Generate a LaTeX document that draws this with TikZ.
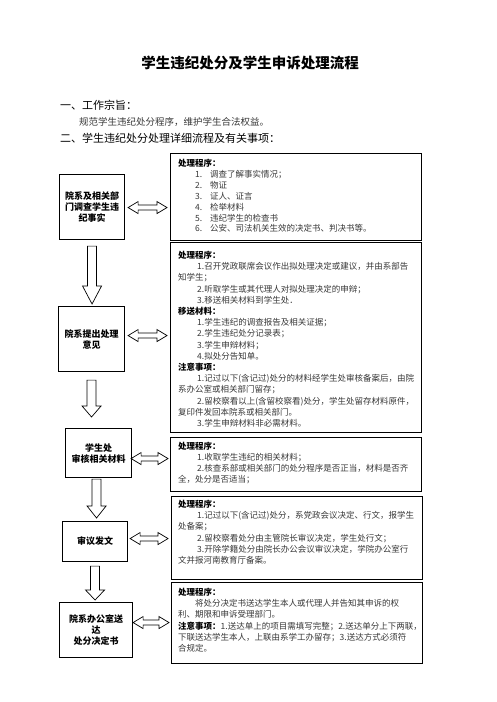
\documentclass[tikz,border=0pt]{standalone}
\usepackage{fontspec}
\setmainfont{Noto Sans CJK SC}
\usetikzlibrary{calc}
\newcommand\varrowshape[3]{\path[arr] let \p1=(#1), \p2=(#2) in (\x1-4.5pt,\y1) -- (\x1+4.5pt,\y1) -- (\x1+4.5pt,\y2+#3) -- (\x1+9.5pt,\y2+#3) -- (\x1,\y2) -- (\x1-9.5pt,\y2+#3) -- (\x1-4.5pt,\y2+#3) -- cycle;}
\newcommand\harrowshape[2]{\path[arr] let \p1=(#1), \p2=(#2) in (\x1,\y1) -- (\x1+10pt,\y1+6pt) -- (\x1+10pt,\y1+2.5pt) -- (\x2-10pt,\y1+2.5pt) -- (\x2-10pt,\y1+6pt) -- (\x2,\y1) -- (\x2-10pt,\y1-6pt) -- (\x2-10pt,\y1-2.5pt) -- (\x1+10pt,\y1-2.5pt) -- (\x1+10pt,\y1-6pt) -- cycle;}
\newcommand\ind{\hspace*{19pt}}
\newcommand\itm[1]{\hspace*{17pt}\makebox[15pt][l]{#1}}
\newcommand\hd[1]{{\bfseries\color{black}#1}}
\tikzset{
  box/.style={draw, line width=1.1pt, inner sep=0pt, anchor=north west},
  lbox/.style={draw, line width=1.1pt, inner sep=0pt, anchor=north west, align=center,
    font=\fontsize{9}{11}\selectfont\bfseries},
  btext/.style={font=\fontsize{8.5}{11.2}\selectfont, align=left, inner sep=0pt,
    anchor=north west, text=black!78},
  arr/.style={draw, line width=0.7pt, fill=white},
}
\begin{document}
\begin{tikzpicture}[x=1pt,y=-1pt]
\fill[white] (0,0) rectangle (496,702);
\useasboundingbox (0,0) rectangle (496,702);

% headings
\node[font=\fontsize{14.5}{16}\selectfont\bfseries, inner sep=0] (title) at (250,63) {学生违纪处分及学生申诉处理流程};
\node[font=\fontsize{11}{13}\selectfont, inner sep=0, anchor=west] (h1) at (60,105) {一、工作宗旨：};
\node[font=\fontsize{9.5}{12}\selectfont, inner sep=0, anchor=west, text=black!78] (s1) at (79,122) {规范学生违纪处分程序，维护学生合法权益。};
\node[font=\fontsize{11}{13}\selectfont, inner sep=0, anchor=west] (h2) at (60,138) {二、学生违纪处分处理详细流程及有关事项：};

% right boxes
\node[box, minimum width=251pt, minimum height=87pt] (r1) at (170,153) {};
\node[box, minimum width=251pt, minimum height=190pt] (r2) at (170,242) {};
\node[box, minimum width=251pt, minimum height=54pt] (r3) at (170,437) {};
\node[box, minimum width=251pt, minimum height=83pt] (r4) at (171,496) {};
\node[box, minimum width=251pt, minimum height=81pt] (r5) at (171,582) {};

% left boxes
\node[lbox, minimum width=65pt, minimum height=65pt] (l1) at (59,174) {院系及相关部\\门调查学生违\\纪事实};
\node[lbox, minimum width=66pt, minimum height=65pt] (l2) at (58,306) {院系提出处理\\意见};
\node[lbox, minimum width=66pt, minimum height=49pt] (l3) at (65,428) {学生处\\审核相关材料};
\node[lbox, minimum width=65pt, minimum height=40pt] (l4) at (62,521) {审议发文};
\node[lbox, minimum width=73pt, minimum height=55pt] (l5) at (59,602) {院系办公室送\\达\\处分决定书};

% texts in right boxes
\node[btext, font=\fontsize{8.5}{10.9}\selectfont] (t1) at (178,159) {\hd{处理程序：}\\
\itm{1.}调查了解事实情况；\\
\itm{2.}物证\\
\itm{3.}证人、证言\\
\itm{4.}检举材料\\
\itm{5.}违纪学生的检查书\\
\itm{6.}公安、司法机关生效的决定书、判决书等。};

\node[btext] (t2) at (178,251) {\hd{处理程序：}\\
\ind 1.召开党政联席会议作出拟处理决定或建议，并由系部告\\
知学生；\\
\ind 2.听取学生或其代理人对拟处理决定的申辩；\\
\ind 3.移送相关材料到学生处．\\
\hd{移送材料：}\\
\ind 1.学生违纪的调查报告及相关证据；\\
\ind 2.学生违纪处分记录表；\\
\ind 3.学生申辩材料；\\
\ind 4.拟处分告知单。\\
\hd{注意事项：}\\
\ind 1.记过以下(含记过)处分的材料经学生处审核备案后，由院\\
系办公室或相关部门留存；\\
\ind 2.留校察看以上(含留校察看)处分，学生处留存材料原件，\\
复印件发回本院系或相关部门。\\
\ind 3.学生申辩材料非必需材料。};

\node[btext, font=\fontsize{8.5}{11}\selectfont] (t3) at (178,442) {\hd{处理程序：}\\
\ind 1.收取学生违纪的相关材料；\\
\ind 2.核查系部或相关部门的处分程序是否正当，材料是否齐\\
全，处分是否适当；};

\node[btext] (t4) at (178,500) {\hd{处理程序：}\\
\ind 1.记过以下(含记过)处分，系党政会议决定、行文，报学生\\
处备案；\\
\ind 2.留校察看处分由主管院长审议决定，学生处行文；\\
\ind 3.开除学籍处分由院长办公会议审议决定，学院办公室行\\
文并报河南教育厅备案。};

\node[btext] (t5) at (178,588) {\hd{处理程序：}\\
\hspace*{17pt}将处分决定书送达学生本人或代理人并告知其申诉的权\\
利、期限和申诉受理部门。\\
\hd{注意事项：}1.送达单上的项目需填写完整；2.送达单分上下两联，\\
下联送达学生本人，上联由系学工办留存；3.送达方式必须符\\
合规定。};

% down arrows
\varrowshape{$(l1.south)+(0,6)$}{$(l2.north)+(0,-2)$}{18pt}
\varrowshape{$(l2.south)+(0,8)$}{$(l3.north)+(0,-11)$}{11pt}
\varrowshape{$(l3.south)+(-2,1)$}{$(l4.north)+(0,-3)$}{12pt}
\varrowshape{$(l4.south)+(0,4)$}{$(l5.north)+(0,-2)$}{10pt}

% double arrows
\harrowshape{$(l1.east)+(3,0.5)$}{$(l1.east -| r1.west)+(-3,0.5)$}
\harrowshape{$(l2.east)+(3,-3.5)$}{$(l2.east -| r2.west)+(-3,-3.5)$}
\harrowshape{$(l3.east)+(-1,5.5)$}{$(l3.east -| r3.west)+(-2,5.5)$}
\harrowshape{$(l4.east)+(2,-3)$}{$(l4.east -| r4.west)+(-3,-3)$}
\harrowshape{$(l5.east)+(0,-7.5)$}{$(l5.east -| r5.west)+(-2,-7.5)$}
\end{tikzpicture}
\end{document}
